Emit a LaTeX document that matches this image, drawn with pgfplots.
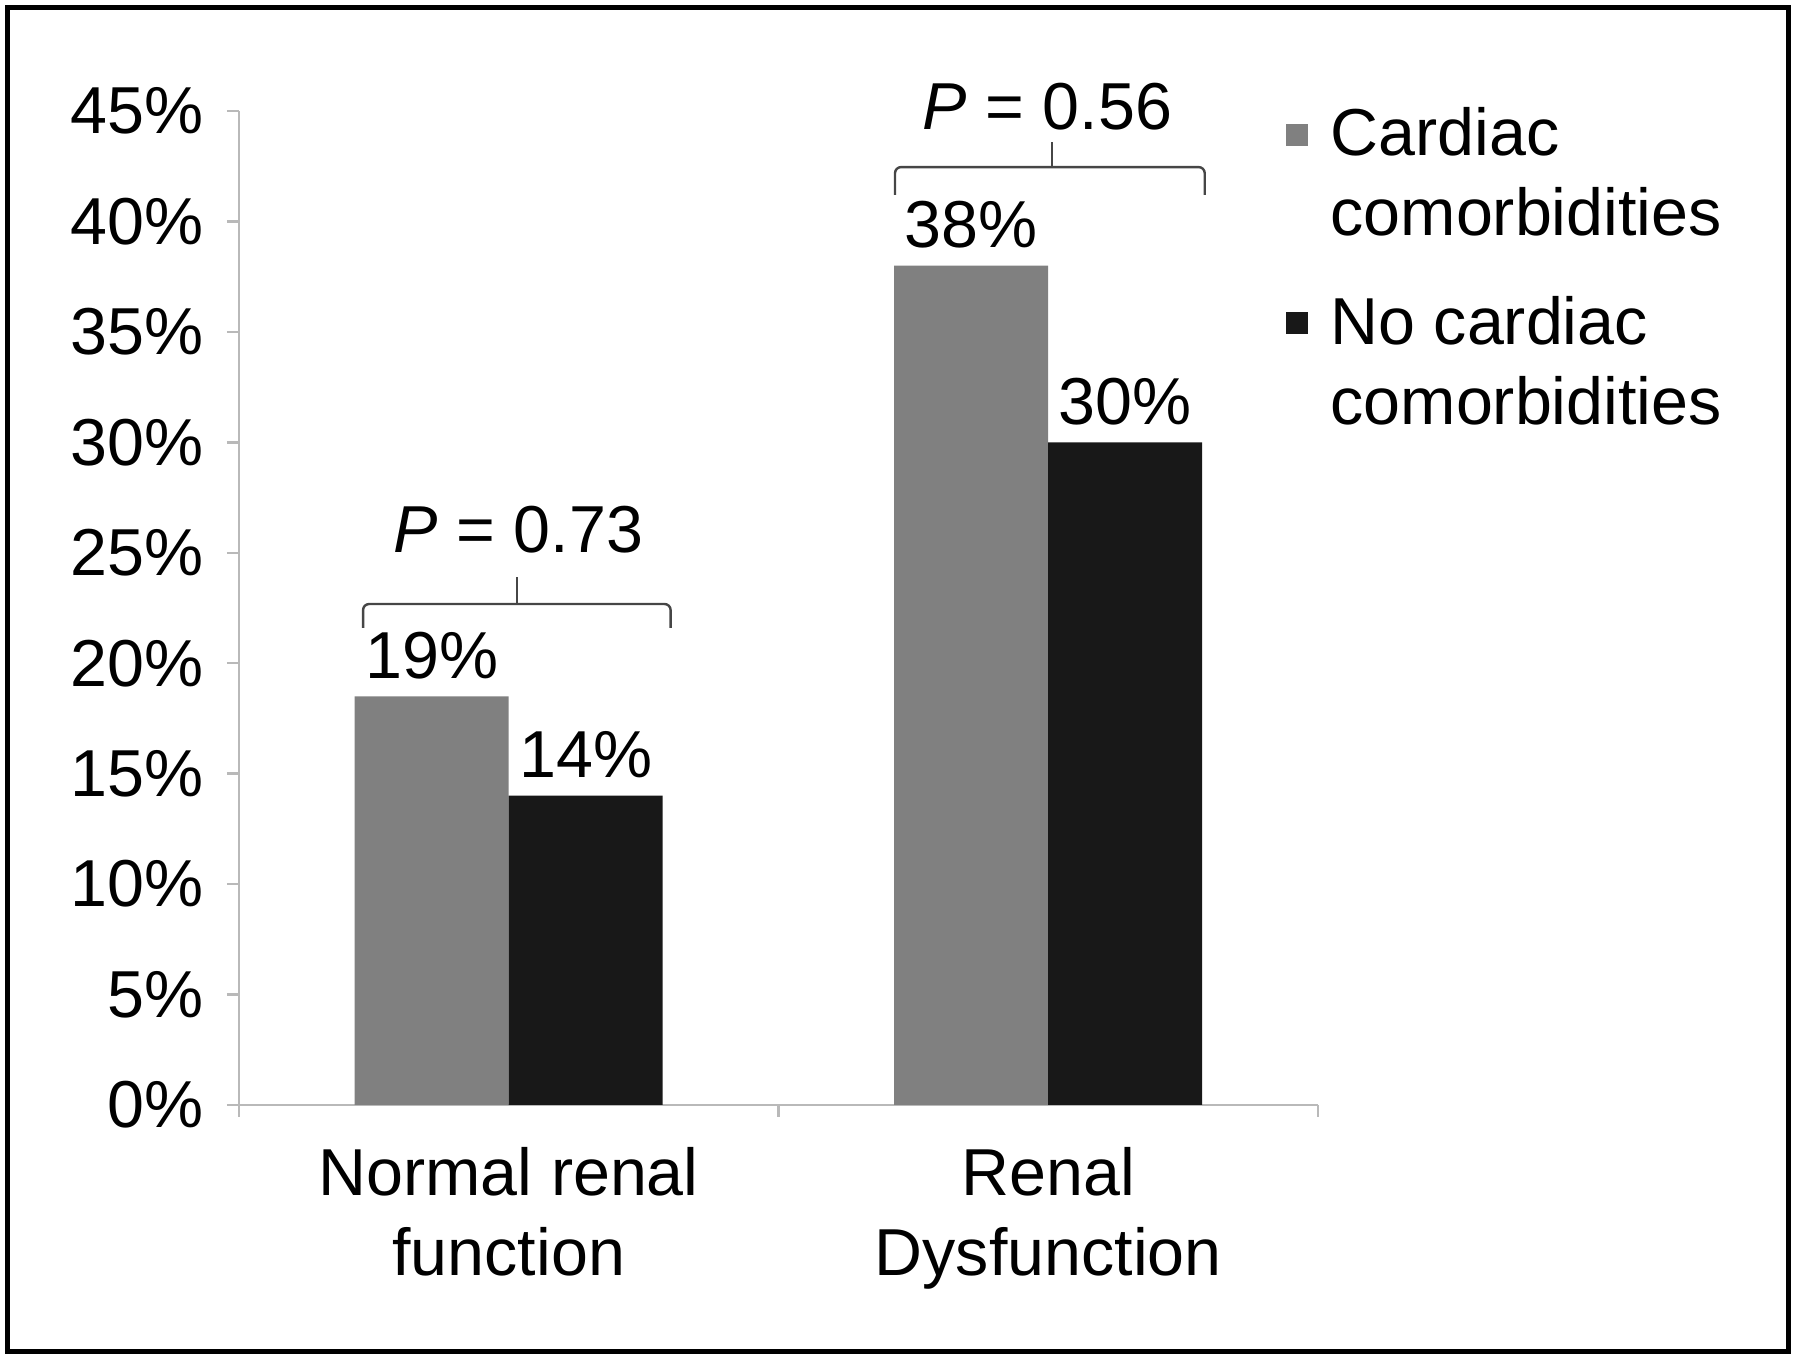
\documentclass[border=0pt]{standalone}
\usepackage{fontspec}
\setmainfont{Liberation Sans}
\usepackage{pgfplots}
\pgfplotsset{compat=1.18}
\definecolor{bargray}{RGB}{128,128,128}
\definecolor{barblack}{RGB}{24,24,24}
\definecolor{axisgray}{RGB}{185,185,185}
\definecolor{bracegray}{RGB}{70,70,70}
\newcommand{\chartfont}{\fontsize{16.6}{20}\selectfont}
\begin{document}
\begin{tikzpicture}
\useasboundingbox (-59.75pt,-63.5pt) rectangle (390.25pt,276.25pt);
\draw[line width=1.25pt] (-57.875pt,-61.75pt) rectangle (387.25pt,274.375pt);
\begin{axis}[
  at={(0pt,0pt)}, anchor=south west,
  scale only axis, width=269.75pt, height=248.5pt,
  xmin=-0.5, xmax=1.5, ymin=0, ymax=45,
  axis x line*=bottom, axis y line*=left,
  axis line style={draw=axisgray, line width=0.6pt, -},
  ytick={0,5,...,45},
  yticklabel={\pgfmathprintnumber{\tick}\%},
  xtick={-0.5,0.5,1.5},
  xticklabels={,,},
  extra x ticks={0,1},
  extra x tick labels={{Normal renal\\function},{Renal\\Dysfunction}},
  extra x tick style={major tick length=0pt, tick style={draw=none}},
  tick align=outside,
  major tick length=3pt,
  tick style={draw=axisgray, line width=0.6pt},
  /pgf/number format/assume math mode=true,
  tick label style={font=\chartfont, inner sep=0pt},
  yticklabel style={xshift=-5.75pt},
  xticklabel style={align=center, yshift=-10.5pt},
  ybar=0pt, bar width=38.5pt,
  nodes near coords, point meta=explicit symbolic,
  nodes near coords style={font=\chartfont, anchor=base, inner sep=0pt, yshift=4.5pt, text=black},
  clip=false,
  legend style={at={(0.9694,1.004)}, anchor=north west, draw=none, fill=none,
    inner sep=0pt, row sep=13.5pt, column sep=5.7pt, font=\chartfont,
    nodes={inner sep=0pt, align=left}, cells={anchor=west}},
]
\addplot[fill=bargray, draw=none,
  legend image code/.code={\fill[bargray] (0pt,7.25pt) rectangle (5.5pt,12.75pt);}]
  coordinates {(0,18.5) [19\%] (1,38) [38\%]};
\addlegendentry{Cardiac\\comorbidities}
\addplot[fill=barblack, draw=none,
  legend image code/.code={\fill[barblack] (0pt,7.25pt) rectangle (5.5pt,12.75pt);}]
  coordinates {(0,14) [14\%] (1,30) [30\%]};
\addlegendentry{No cardiac\\comorbidities}
% brackets with p-values
\draw[bracegray, line width=0.6pt, rounded corners=1.5pt]
  (axis cs:-0.27,21.6) -- (axis cs:-0.27,22.68) -- (axis cs:0.30,22.68) -- (axis cs:0.30,21.6);
\draw[bracegray, line width=0.6pt] (axis cs:0.015,22.68) -- (axis cs:0.015,23.9);
\draw[bracegray, line width=0.6pt, rounded corners=1.5pt]
  (axis cs:0.716,41.2) -- (axis cs:0.716,42.46) -- (axis cs:1.29,42.46) -- (axis cs:1.29,41.2);
\draw[bracegray, line width=0.6pt] (axis cs:1.007,42.46) -- (axis cs:1.007,43.59);
\node[anchor=base, font=\chartfont, inner sep=0pt] at (axis cs:0.018,24.99) {\textit{P} = 0.73};
\node[anchor=base, font=\chartfont, inner sep=0pt] at (axis cs:0.9985,44.14) {\textit{P} = 0.56};
\end{axis}
\end{tikzpicture}
\end{document}
